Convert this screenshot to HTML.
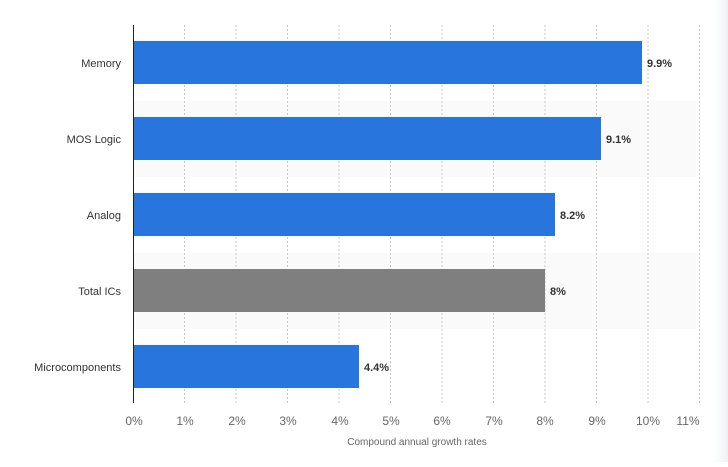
<!DOCTYPE html><html><head><style>body{margin:0;background:#fff;width:728px;height:462px;overflow:hidden;font-family:"Liberation Sans",sans-serif}</style></head><body>
<svg width="728" height="462" xmlns="http://www.w3.org/2000/svg" font-family="Liberation Sans, sans-serif">
<defs><linearGradient id="sh" x1="0" x2="1"><stop offset="0" stop-color="#fff" stop-opacity="0"/><stop offset="1" stop-color="#eef0f3"/></linearGradient></defs>
<rect x="133" y="101" width="567" height="76" fill="#fafafa"/>
<rect x="133" y="253" width="567" height="76" fill="#fafafa"/>
<g stroke="#c8c8c8" stroke-dasharray="2,2" stroke-width="1">
<line x1="184.5" y1="25" x2="184.5" y2="403"/><line x1="236" y1="25" x2="236" y2="403"/><line x1="287.5" y1="25" x2="287.5" y2="403"/><line x1="339" y1="25" x2="339" y2="403"/><line x1="390.5" y1="25" x2="390.5" y2="403"/><line x1="442" y1="25" x2="442" y2="403"/><line x1="493.5" y1="25" x2="493.5" y2="403"/><line x1="545" y1="25" x2="545" y2="403"/><line x1="596.5" y1="25" x2="596.5" y2="403"/><line x1="648" y1="25" x2="648" y2="403"/><line x1="699.5" y1="25" x2="699.5" y2="403"/>
</g>
<g fill="#2876dd">
<rect x="133" y="41" width="509" height="43"/>
<rect x="133" y="117" width="468" height="43"/>
<rect x="133" y="193" width="422" height="43"/>
<rect x="133" y="345" width="226" height="43"/>
</g>
<rect x="133" y="269" width="412" height="43" fill="#7f7f7f"/>
<line x1="133.5" y1="25" x2="133.5" y2="403" stroke="#222" stroke-width="1"/>
<g font-size="11" fill="#333" text-anchor="end">
<text x="121" y="67">Memory</text><text x="121" y="143">MOS Logic</text><text x="121" y="219">Analog</text><text x="121" y="295">Total ICs</text><text x="121" y="371">Microcomponents</text>
</g>
<g font-size="11" fill="#333" font-weight="bold">
<text x="647" y="67">9.9%</text><text x="606" y="143">9.1%</text><text x="560" y="219">8.2%</text><text x="550" y="295">8%</text><text x="364" y="371">4.4%</text>
</g>
<g font-size="12" fill="#666" text-anchor="middle">
<text x="134" y="425">0%</text><text x="185" y="425">1%</text><text x="237" y="425">2%</text><text x="288" y="425">3%</text><text x="340" y="425">4%</text><text x="391" y="425">5%</text><text x="442" y="425">6%</text><text x="494" y="425">7%</text><text x="545" y="425">8%</text><text x="597" y="425">9%</text><text x="648" y="425">10%</text><text x="688" y="425">11%</text>
</g>
<text x="417" y="445" font-size="10" fill="#666" text-anchor="middle">Compound annual growth rates</text>
<rect x="708" y="0" width="20" height="462" fill="url(#sh)"/>
</svg>
</body></html>
